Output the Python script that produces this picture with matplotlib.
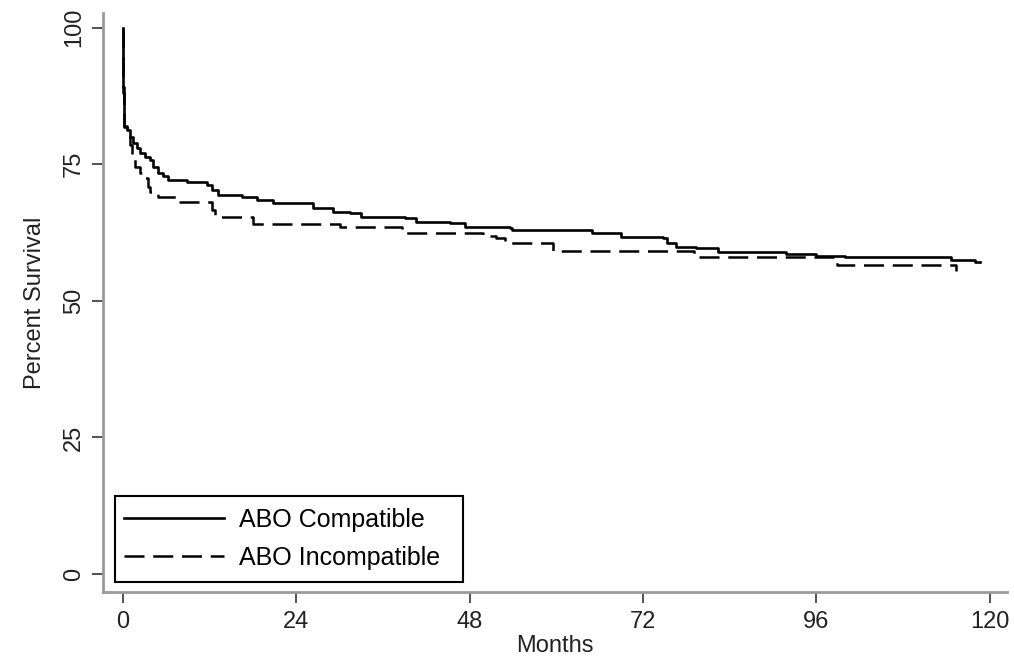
import matplotlib
matplotlib.use("Agg")
import matplotlib.pyplot as plt
from matplotlib.patches import Rectangle

# Kaplan-Meier steps: (months, percent surviving)
comp_months = [0, 0.05, 0.15, 0.5, 0.9, 1.4, 1.9, 2.35, 3.0, 3.7, 4.2, 4.8, 5.5, 6.2,
               8.9, 11.6, 12.3, 13.1, 16.5, 18.5, 20.8, 26.3, 29.1, 31.4, 33.0, 39.0,
               40.6, 45.3, 47.3, 53.6, 53.8, 64.9, 69.0, 74.7, 75.3, 76.6, 79.4, 82.4,
               91.8, 96.0, 99.9, 114.7, 117.9, 118.6]
comp_surv = [100, 89.2, 81.9, 81.3, 80.0, 78.9, 78.0, 77.1, 76.4, 75.8, 74.5, 73.4, 72.8, 72.2,
             71.8, 71.2, 70.3, 69.4, 69.0, 68.5, 67.9, 67.0, 66.3, 66.1, 65.4, 65.2,
             64.5, 64.2, 63.6, 63.3, 62.9, 62.5, 61.7, 61.5, 60.6, 59.9, 59.7, 59.0,
             58.6, 58.2, 58.0, 57.5, 57.1, 57.1]

incomp_months = [0, 0.05, 0.2, 0.6, 1.0, 1.25, 1.7, 2.35, 2.8, 3.5, 3.7, 4.8, 7.5,
                 12.3, 12.7, 18.0, 30.0, 38.6, 49.8, 51.7, 52.9, 59.5, 79.0, 98.8, 115.4]
incomp_surv = [100, 88.0, 82.0, 80.0, 78.5, 76.7, 74.5, 73.4, 72.5, 70.9, 70.0, 69.1, 68.1,
               66.7, 65.4, 64.0, 63.6, 62.5, 61.8, 61.5, 60.6, 59.2, 58.1, 56.6, 55.5]

x_ticks = [0, 24, 48, 72, 96, 120]
y_ticks = [0, 25, 50, 75, 100]
labels = ["ABO Compatible", "ABO Incompatible"]

plt.rcParams["font.family"] = ["Liberation Sans", "DejaVu Sans"]
fs = 17
W, H = 1014, 661

fig = plt.figure(figsize=(W / 100, H / 100), dpi=100)
ax = fig.add_axes([103 / W, 1 - 592 / H, 904 / W, 579 / H])

ax.step(comp_months, comp_surv, where="post", color="black", lw=1.9, label=labels[0])
ax.step(incomp_months, incomp_surv, where="post", color="black", lw=1.8,
        dashes=(8, 3.5), label=labels[1])

ax.set_xlim(-2.77, 122.4)
ax.set_ylim(-3.3, 102.7)
ax.set_xticks(x_ticks)
ax.set_yticks(y_ticks)
ax.tick_params(axis="both", direction="out", length=8, width=1.2, color="#333333",
               labelsize=fs, labelcolor="#222222")
ax.tick_params(axis="x", pad=6)
ax.tick_params(axis="y", labelrotation=90, pad=5)
for lab in ax.get_yticklabels():
    lab.set_va("center")

for s in ["top", "right"]:
    ax.spines[s].set_visible(False)
for s in ["left", "bottom"]:
    ax.spines[s].set_color("#9a9a9a")
    ax.spines[s].set_linewidth(2)

ax.set_xlabel("Months", fontsize=fs, color="#222222", labelpad=1)
ax.set_ylabel("Percent Survival", fontsize=fs, color="#222222", labelpad=12)

# legend box drawn separately: Stata leaves extra room on the right
ax.add_patch(Rectangle((115 / W, 1 - 582 / H), 348 / W, 86 / H, transform=fig.transFigure,
                       facecolor="white", edgecolor="black", lw=1.5, zorder=4, clip_on=False))
ax.legend(loc="center left", bbox_to_anchor=(124 / W, 1 - 539 / H),
          bbox_transform=fig.transFigure, borderaxespad=0, borderpad=0, fontsize=18,
          handlelength=4.0, handletextpad=0.6, labelspacing=0.55, frameon=False)

fig.savefig("out.png", dpi=100)
